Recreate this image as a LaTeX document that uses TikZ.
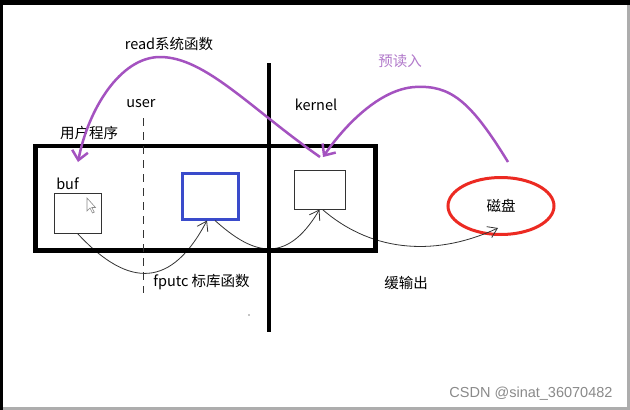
\documentclass[tikz,border=0pt]{standalone}
\usepackage{fontspec}
\setmainfont{Noto Sans CJK SC}
\newfontfamily\wmfont{Liberation Sans}
\usetikzlibrary{arrows.meta, shapes.geometric}
\definecolor{cpurple}{HTML}{A452C0}
\definecolor{clabel}{HTML}{B27ACB}
\definecolor{cred}{HTML}{EC2A22}
\definecolor{cblue}{HTML}{3A4BCB}
\definecolor{cgrey}{HTML}{8A8A8A}
\definecolor{cline}{HTML}{333333}
\tikzset{
  every picture/.style={x=1pt, y=-1pt, font=\fontsize{14.5}{17}\selectfont},
  box/.style={draw=#1, line width=1pt, inner sep=0pt},
  box/.default=cline,
  hand/.style={draw=cline, line width=0.8pt, -{Straight Barb[length=9pt, width=12pt]}},
  call/.style={draw=cpurple, line width=2.5pt, -{Straight Barb[length=9pt, width=16pt]}},
  label/.style={inner sep=1pt},
}

\begin{document}
\begin{tikzpicture}
  \useasboundingbox (0,0) rectangle (630,410);
  % screenshot frame
  \fill[black] (0,0) rectangle (630,410);
  \fill[cgrey!70] (3,5) rectangle (630,410);
  \fill[white] (3,5) rectangle (627,407);

  % buffers
  \node[box, minimum width=47pt, minimum height=40pt] (buf) at (77.5,213) {};
  \node[box=cblue, line width=3pt, minimum width=56pt, minimum height=46pt] (lib) at (210,196) {};
  \node[box, minimum width=51pt, minimum height=39pt] (kbuf) at (319.5,189.5) {};
  \node[draw=cred, line width=3pt, ellipse, minimum width=106pt, minimum height=57pt, inner sep=0pt] (disk) at (501,206) {磁盘};

  % mouse pointer
  \draw[cgrey, line width=0.6pt, fill=white] (87,198) -- (87,211) -- (90,208) -- (92.5,213) -- (94.3,212.2) -- (91.8,207.5) -- (95.5,207.5) -- cycle;

  % thin hand drawn arrows
  \draw[hand] (buf.south) .. controls (130,290) and (172,287) .. ([xshift=-3pt]lib.south);
  \draw[hand] ([xshift=5pt]lib.south) .. controls (250,252) and (285,268) .. (kbuf.south);
  \draw[hand] ([xshift=3pt]kbuf.south) .. controls (375,255) and (440,255) .. ([xshift=-3pt, yshift=-22pt]disk.center);

  % user program and the user / kernel split
  \node[draw, line width=4.5pt, minimum width=340pt, minimum height=104.5pt, inner sep=0pt] (prog) at (205.5,198.25) {};
  \coordinate (top) at (269,63);
  \coordinate (bot) at (269,332);
  \draw[line width=3.5pt] (top) -- (bot);
  \coordinate (utop) at (143.5,118);
  \coordinate (ubot) at (143.5,293);
  \draw[cline, line width=1pt, dash pattern=on 8pt off 6pt] (utop) -- (ubot);

  % labels
  \node[label] (rdl) at (169,44) {read系统函数};
  \node[label] (usr) at (141,104) {user};
  \node[label] (krn) at (316,105) {kernel};
  \node[label] (upl) at (89,133) {用户程序};
  \node[label, text=clabel] (prl) at (400,61) {预读入};
  \node[label] (bufl) at (67.5,184) {buf};
  \node[label] (fpl) at (201.5,282) {fputc 标库函数};
  \node[label] (outl) at (406,283) {缓输出};
  \node[label, text=cgrey, font=\wmfont\fontsize{14.5}{17}\selectfont] (wm) at (531,394) {CSDN @sinat\_36070482};
  \fill[cgrey] (249,315) circle (0.8pt);

  % read and read ahead
  \coordinate (rd) at (320,157);
  \coordinate (pre) at (508,162);
  \draw[call] (rd) .. controls (250,108) and (205,57) .. (160,57) .. controls (120,57) and (88,110) .. (78,162);
  \draw[call] (pre) .. controls (470,100) and (450,85) .. (415,87) .. controls (380,89) and (345,125) .. (323,157);
\end{tikzpicture}
\end{document}
